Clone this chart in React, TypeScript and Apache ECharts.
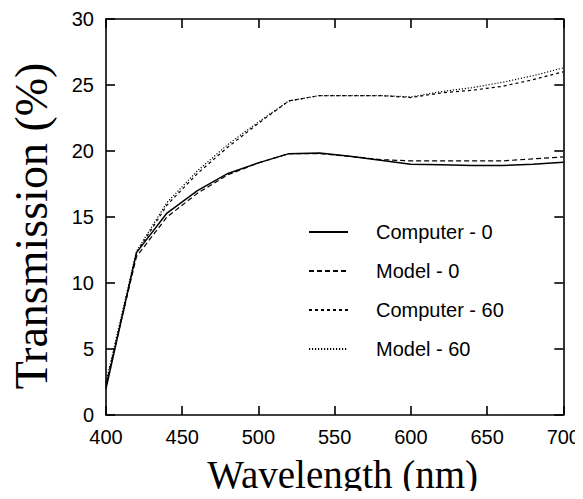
import React, { useEffect, useRef } from "react";
import * as echarts from "echarts";

const wavelengths = [400, 420, 440, 460, 480, 500, 520, 540, 560, 580, 600, 620, 640, 660, 680, 700];
const computer0 = [2.0, 12.3, 15.3, 17.0, 18.3, 19.1, 19.8, 19.85, 19.6, 19.3, 19.0, 18.95, 18.9, 18.9, 19.0, 19.15];
const model0 = [2.3, 12.0, 15.0, 16.8, 18.2, 19.1, 19.8, 19.8, 19.6, 19.35, 19.25, 19.25, 19.25, 19.25, 19.4, 19.55];
const computer60 = [2.2, 12.3, 15.9, 18.3, 20.3, 22.1, 23.8, 24.2, 24.2, 24.2, 24.05, 24.4, 24.6, 24.9, 25.4, 26.0];
const model60 = [2.5, 12.4, 16.1, 18.5, 20.5, 22.2, 23.8, 24.2, 24.2, 24.2, 24.1, 24.5, 24.8, 25.2, 25.7, 26.3];

const seriesNames = ["Computer - 0", "Model - 0", "Computer - 60", "Model - 60"];
const xTitle = "Wavelength (nm)";
const yTitle = "Transmission (%)";

const pairs = (vals: number[]) => wavelengths.map((w, i) => [w, vals[i]]);

export default function App() {
  const ref = useRef<HTMLDivElement>(null);
  useEffect(() => {
    if (!ref.current) return;
    const chart = echarts.init(ref.current, null, { renderer: "svg" });
    const sans = "Liberation Sans, Arial, Helvetica, sans-serif";
    const serif = "Liberation Serif, Times New Roman, serif";
    const axisLine = { show: true, onZero: false, lineStyle: { color: "#000", width: 1.6 } };
    const tick = { show: true, inside: true, length: 9, lineStyle: { color: "#000", width: 1.6 } };
    const mkLine = (name: string, data: number[], type: any, width: number) => ({
      name,
      type: "line",
      data: pairs(data),
      symbol: "none",
      lineStyle: { color: "#000", width, type },
      itemStyle: { color: "#000" },
    });
    chart.setOption({
      animation: false,
      backgroundColor: "#fff",
      grid: { left: 103, right: 17, top: 19, bottom: 84 },
      xAxis: [
        {
          type: "value",
          min: 400,
          max: 700,
          interval: 50,
          position: "bottom",
          axisLine,
          axisTick: tick,
          splitLine: { show: false },
          axisLabel: { color: "#000", fontSize: 20, fontFamily: sans, margin: 12 },
          name: xTitle,
          nameLocation: "middle",
          nameGap: 40,
          nameTextStyle: { color: "#000", fontSize: 39, fontFamily: serif, padding: [0, 0, 0, 16] },
        },
        {
          type: "value",
          min: 400,
          max: 700,
          interval: 50,
          position: "top",
          axisLine,
          axisTick: tick,
          splitLine: { show: false },
          axisLabel: { show: false },
        },
      ],
      yAxis: [
        {
          type: "value",
          min: 0,
          max: 30,
          interval: 5,
          position: "left",
          axisLine,
          axisTick: tick,
          splitLine: { show: false },
          axisLabel: { color: "#000", fontSize: 20, fontFamily: sans, margin: 12 },
          name: yTitle,
          nameLocation: "middle",
          nameGap: 52,
          nameTextStyle: { color: "#000", fontSize: 46, fontFamily: serif, padding: [0, 18, 0, 0] },
        },
        {
          type: "value",
          min: 0,
          max: 30,
          interval: 5,
          position: "right",
          axisLine,
          axisTick: tick,
          splitLine: { show: false },
          axisLabel: { show: false },
        },
      ],
      legend: {
        orient: "vertical",
        left: 303,
        top: 217,
        itemWidth: 39,
        itemHeight: 14,
        itemGap: 19,
        data: seriesNames,
        itemStyle: { color: "rgba(0,0,0,0)", borderColor: "rgba(0,0,0,0)", borderWidth: 0, opacity: 0 },
        textStyle: { color: "#000", fontSize: 20, fontFamily: sans, padding: [0, 0, 0, 23] },
      },
      series: [
        mkLine(seriesNames[0], computer0, "solid", 1.5),
        mkLine(seriesNames[1], model0, [5, 3], 1.2),
        mkLine(seriesNames[2], computer60, [3, 3], 1.2),
        mkLine(seriesNames[3], model60, [1.2, 1.8], 1.2),
      ],
    });
    return () => chart.dispose();
  }, []);
  return <div ref={ref} style={{ width: 583, height: 499, margin: -8 }} />;
}
